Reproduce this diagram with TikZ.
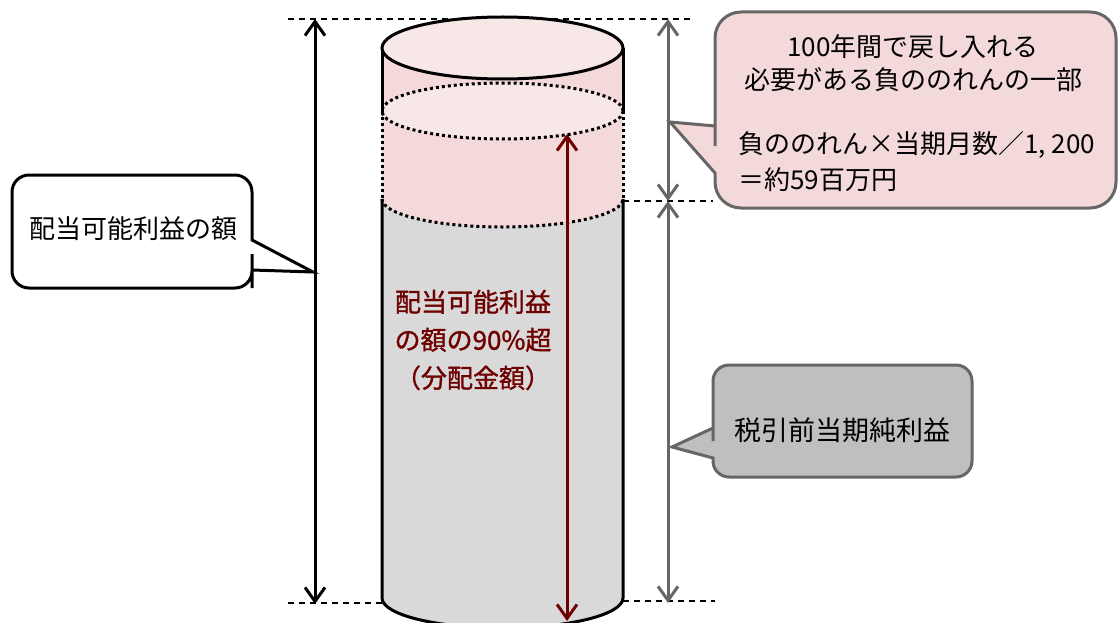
\documentclass[tikz,border=0pt]{standalone}
\usepackage{fontspec}
\setmainfont{Noto Sans CJK JP}
\newfontfamily\redfont{Noto Sans CJK JP}[FakeBold=1.2]
\usetikzlibrary{arrows.meta}
\definecolor{dred}{HTML}{6E0000}
\definecolor{arrgrey}{HTML}{666666}
\definecolor{cylgrey}{HTML}{D9D9D9}
\definecolor{cylpink}{HTML}{F4D9DB}
\definecolor{lightpink}{HTML}{F8E7E7}
\definecolor{callgrey}{HTML}{BFBFBF}
\tikzset{
  >={Straight Barb[length=14pt,width=20pt,line width=3pt]},
  dimline/.style={line width=3pt,<->},
  guide/.style={line width=1.3pt,dash pattern=on 6pt off 5pt},
  dotline/.style={line width=3pt,dash pattern=on 3pt off 3pt},
  solidline/.style={line width=3pt},
  callline/.style={line width=3pt},
  calltext/.style={font=\fontsize{26pt}{34pt}\selectfont,inner sep=0pt},
  er/.style={x radius=120.5pt,y radius=30pt},
}
\begin{document}
\begin{tikzpicture}[x=1pt,y=-1pt]
\useasboundingbox (0,0) rectangle (1118,623);
% guide lines
\coordinate (gtl) at (288,19);   \coordinate (gtr) at (690,19);
\coordinate (gbl) at (288,603);  \coordinate (gbl2) at (382,603);
\coordinate (gbr1) at (623,601); \coordinate (gbr2) at (715,601);
\coordinate (gml) at (623,201);  \coordinate (gmr) at (713,201);
\draw[guide] (gtl) -- (gtr);
\draw[guide] (gbl) -- (gbl2);
\draw[guide] (gbr1) -- (gbr2);
\draw[guide] (gml) -- (gmr);
% cylinder
\fill[cylgrey] (382,48) -- (382,598) arc[start angle=180,end angle=360,er] -- (623,48) -- cycle;
\fill[cylpink] (382,48) -- (382,199) arc[start angle=180,end angle=360,er,y radius=28pt] -- (623,48) -- cycle;
\fill[lightpink] (502.5,111) ellipse[x radius=120.5pt,y radius=28pt];
\draw[dotline] (502.5,111) ellipse[x radius=120.5pt,y radius=28pt];
\draw[dotline] (382,199) arc[start angle=180,end angle=360,x radius=120.5pt,y radius=28pt];
\draw[dotline] (382,111) -- (382,199);
\draw[dotline] (623,111) -- (623,199);
\draw[solidline] (382,48) -- (382,111);
\draw[solidline] (623,48) -- (623,111);
\draw[solidline] (382,199) -- (382,598) arc[start angle=180,end angle=360,er] -- (623,199);
\draw[solidline,fill=lightpink] (502.5,48) ellipse[x radius=120.5pt,y radius=31pt];
% arrows
\coordinate (bt) at (315,19); \coordinate (bb) at (315,604);
\draw[dimline] (bt) -- (bb);
\coordinate (gt) at (668,19); \coordinate (gm) at (668,201); \coordinate (gb) at (668,603);
\draw[dimline,arrgrey] (gt) -- (gm);
\draw[dimline,arrgrey] (gm) -- (gb);
\coordinate (rt) at (567,134); \coordinate (rb) at (567,621);
\draw[dimline,dred] (rt) -- (rb);
\node[calltext,text=dred,align=center,font=\fontsize{26pt}{38pt}\selectfont\redfont] (redtxt) at (473,340)
  {配当可能利益\\の額の90\%超\\（分配金額）};
% left callout
\draw[callline,fill=white] (313,272) -- (252,240) -- (252,235) [rounded corners=17pt] -- (252,175) -- (12,175) -- (12,288) -- (252,288) -- (252,271) [sharp corners] -- (252,270) -- cycle;
\node[calltext] (lefttxt) at (133,229) {配当可能利益の額};
% right top callout
\draw[callline,draw=arrgrey,fill=cylpink] (670,122) -- (715,173) -- (715,176) [rounded corners=26pt] -- (715,208) -- (1116,208) -- (1116,12) -- (715,12) -- (715,120) [sharp corners] -- (715,126) -- cycle;
\node[calltext] (rt1) at (913,47) {100年間で戻し入れる};
\node[calltext] (rt2) at (913,80) {必要がある負ののれんの一部};
\node[calltext,anchor=west] (rt3) at (738,145) {負ののれん×当期月数／1, 200};
\node[calltext,anchor=west] (rt4) at (738,180) {＝約59百万円};
% grey callout
\draw[callline,draw=arrgrey,fill=callgrey] (672,447) -- (713,458) -- (713,460) [rounded corners=16pt] -- (713,477) -- (972,477) -- (972,365) -- (713,365) -- (713,425) [sharp corners] -- (713,428) -- cycle;
\node[calltext,font=\fontsize{27pt}{34pt}\selectfont] (greytxt) at (842,430) {税引前当期純利益};
\end{tikzpicture}
\end{document}
